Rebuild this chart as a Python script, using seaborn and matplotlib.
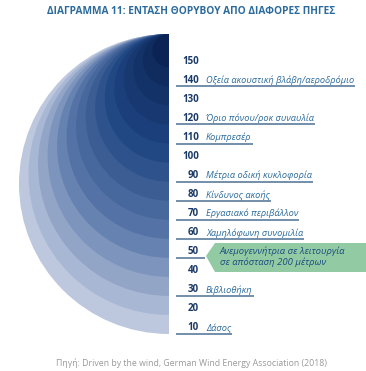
import matplotlib
matplotlib.use("Agg")
import matplotlib.pyplot as plt
import seaborn as sns
from matplotlib.patches import Wedge, Polygon

sns.set_theme(style="white")
plt.rcParams['font.family'] = ['Open Sans', 'DejaVu Sans']

# Δεδομένα: επίπεδα θορύβου (dB) και περιγραφές
levels = [150, 140, 130, 120, 110, 100, 90, 80, 70, 60, 50, 40, 30, 20, 10]
labels = ['', 'Οξεία ακουστική βλάβη/αεροδρόμιο', '', 'Όριο πόνου/ροκ συναυλία',
          'Κομπρεσέρ', '', 'Μέτρια οδική κυκλοφορία', 'Κίνδυνος ακοής',
          'Εργασιακό περιβάλλον', 'Χαμηλόφωνη συνομιλία', '', '', 'Βιβλιοθήκη',
          '', 'Δάσος']
wind_level = 50
wind_text = 'Ανεμογεννήτρια σε λειτουργία\nσε απόσταση 200 μέτρων'

title = 'ΔΙΑΓΡΑΜΜΑ 11: ΕΝΤΑΣΗ ΘΟΡΥΒΟΥ ΑΠΟ ΔΙΑΦΟΡΕΣ ΠΗΓΕΣ'
source = 'Πηγή: Driven by the wind, German Wind Energy Association (2018)'

# κλίμακα: pixels ανά dB
S = 1.905
W, H = 366, 371


def px(x, y):
    # μετατροπή θέσης pixel (από πάνω αριστερά) σε συντεταγμένες dB
    return (x - 169) / S, 10 + (328 - y) / S


fig = plt.figure(figsize=(W / 100, H / 100), dpi=100)
ax = fig.add_axes([0, 0, 1, 1])
x0, y0 = px(0, H)
x1, y1 = px(W, 0)
ax.set_xlim(x0, x1)
ax.set_ylim(y0, y1)
ax.set_aspect('equal')
ax.axis('off')

top = px(0, 34)[1]
under = 6 / S
colors = sns.blend_palette(['#0c2455', '#1d4480', '#5876a8', '#bdc8de'], len(levels))

# ημικύκλια: από το μεγαλύτερο (10 dB) προς το μικρότερο
for v, c in sorted(zip(levels, colors), key=lambda t: t[0]):
    bottom = v - under
    r = (top - bottom) / 2
    ax.add_patch(Wedge((0, bottom + r), r, 90, 270, facecolor=c, edgecolor='none'))

num_x = px(199, 0)[0]
txt_x = px(206, 0)[0]
line_x0 = px(176, 0)[0]
line_col = '#4d7093'

fig.canvas.draw()
renderer = fig.canvas.get_renderer()
inv = ax.transData.inverted()

for v, lab in zip(levels, labels):
    ax.text(num_x, v, str(v), ha='right', va='center', fontsize=7,
            fontweight='bold', color='#1b3a68')
    if lab:
        t = ax.text(txt_x, v, lab, ha='left', va='center', fontsize=6.7,
                    style='italic', color='#2a6a9c')
        bb = t.get_window_extent(renderer)
        xe = inv.transform((bb.x1, bb.y0))[0] + 1 / S
        ax.plot([line_x0, xe], [v - under, v - under], color=line_col, lw=1.1,
                solid_capstyle='butt')

# πράσινο πλαίσιο για την ανεμογεννήτρια
ax.plot([line_x0, px(205, 0)[0]], [wind_level - under, wind_level - under],
        color=line_col, lw=1.1, solid_capstyle='butt')
box = [px(206, 256), px(215, 243), px(366, 243), px(366, 272), px(215, 272)]
ax.add_patch(Polygon(box, closed=True, facecolor='#92caa3', edgecolor='none'))
ax.text(px(220, 0)[0], px(0, 257)[1], wind_text, ha='left', va='center',
        fontsize=6.8, style='italic', color='#1b4d80', linespacing=1.15)

fig.text(191 / W, 1 - 12 / H, title, ha='center', va='center', fontsize=7.3,
         fontweight='bold', color='#2c6b9b')
fig.text(191 / W, 1 - 363 / H, source, ha='center', va='center', fontsize=6.3,
         color='#9a9a9a')

fig.savefig('out.png', dpi=100)
